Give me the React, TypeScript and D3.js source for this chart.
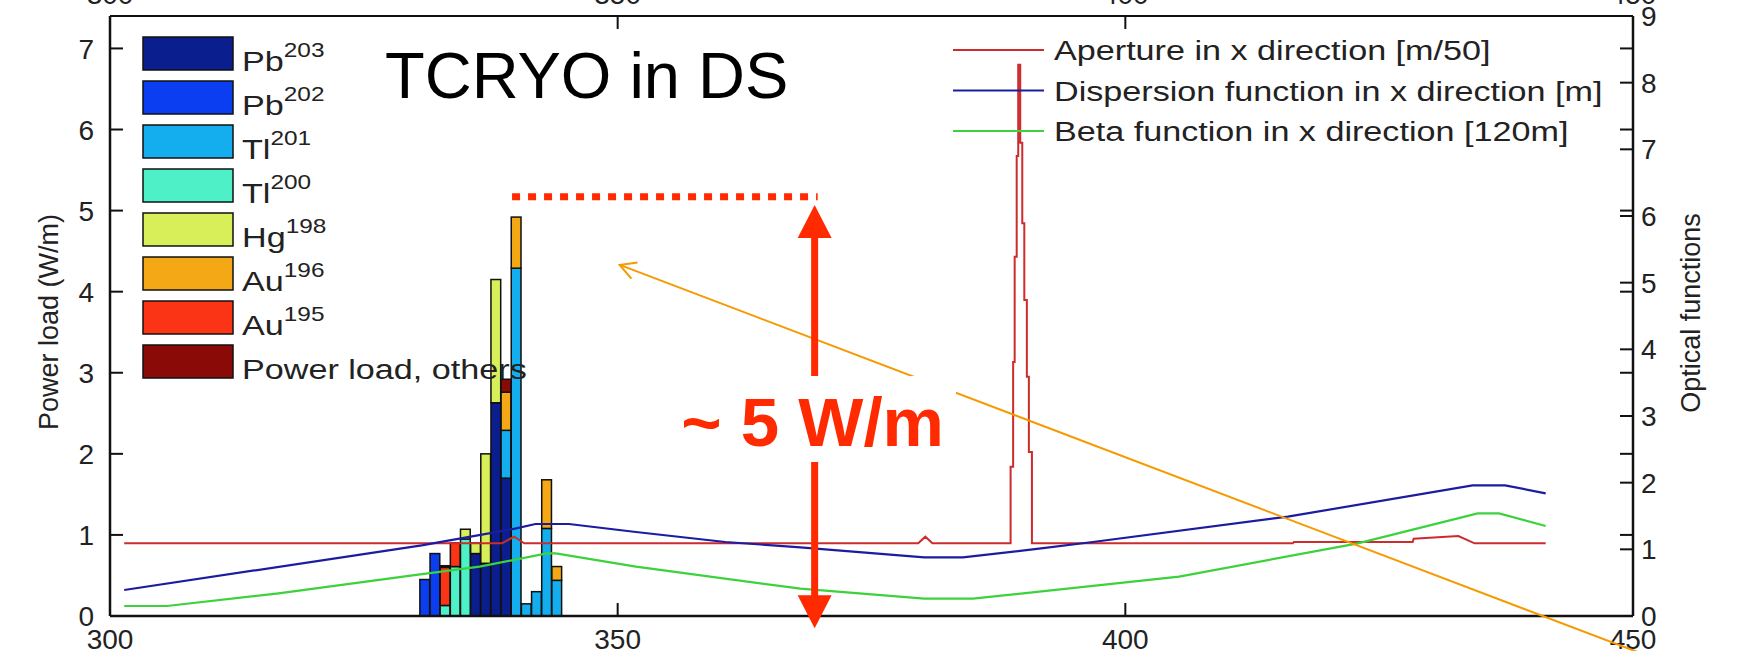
import React from 'react';
import * as d3 from 'd3';

const width = 1749;
const height = 651;
const margin = { top: 16, right: 116, bottom: 35, left: 110 };
const innerWidth = width - margin.left - margin.right;
const innerHeight = height - margin.top - margin.bottom;

// bar positions (m) and stacked power load per nuclide (W/m)
const positions = [331, 332, 333, 334, 335, 336, 337, 338, 339, 340, 341, 342, 343, 344];
const pb203 = [0, 0, 0, 0, 0, 0.77, 0.65, 2.63, 1.7, 0, 0, 0, 0, 0];
const pb202 = [0.45, 0.77, 0, 0, 0, 0, 0, 0, 0, 0, 0, 0, 0, 0];
const tl201 = [0, 0, 0, 0, 0, 0, 0, 0, 0.59, 4.29, 0.15, 0.3, 1.08, 0.44];
const tl200 = [0, 0, 0.13, 0.61, 0.95, 0, 0, 0, 0, 0, 0, 0, 0, 0];
const hg198 = [0, 0, 0, 0, 0.12, 0.13, 1.35, 1.52, 0, 0, 0, 0, 0, 0];
const au196 = [0, 0, 0, 0, 0, 0, 0, 0, 0.47, 0.63, 0, 0, 0.6, 0.17];
const au195 = [0, 0, 0.47, 0.29, 0, 0, 0, 0, 0, 0, 0, 0, 0, 0];
const others = [0, 0, 0.02, 0, 0, 0, 0, 0, 0.16, 0, 0, 0, 0, 0];

const seriesKeys = ['pb203', 'pb202', 'tl201', 'tl200', 'hg198', 'au196', 'au195', 'others'];
const seriesNames = ['Pb', 'Pb', 'Tl', 'Tl', 'Hg', 'Au', 'Au', 'Power load, others'];
const seriesMass = ['203', '202', '201', '200', '198', '196', '195', ''];
const seriesColors = ['#0a1e8e', '#0b3ef0', '#14aeee', '#4ef0c8', '#d8ef5a', '#f5a816', '#fa3414', '#8a0a08'];

// optical functions (right axis)
const apertureX = [301.4, 338.6, 339.8, 340.8, 379.6, 380.3, 381.0, 388.7, 388.7, 388.95, 388.95, 389.1, 389.1, 389.3, 389.3, 389.45, 389.45, 389.65, 389.65, 389.85, 389.85, 390.05, 390.05, 390.3, 390.3, 390.5, 390.5, 390.8, 390.8, 391.05, 391.05, 416.5, 416.6, 428.3, 428.4, 432.8, 434.4, 441.4];
const apertureY = [1.09, 1.09, 1.19, 1.09, 1.09, 1.19, 1.09, 1.09, 2.24, 2.24, 3.81, 3.81, 5.39, 5.39, 6.9, 6.9, 8.27, 8.27, 7.1, 7.1, 5.89, 5.89, 4.74, 4.74, 3.59, 3.59, 2.46, 2.46, 1.09, 1.09, 1.09, 1.09, 1.11, 1.11, 1.16, 1.2, 1.09, 1.09];
const dispersionX = [301.4, 330.7, 333.3, 339.9, 341.9, 345.2, 351.8, 360.6, 368.0, 380.2, 384.0, 391.5, 396.8, 416.0, 434.2, 437.4, 441.4];
const dispersionY = [0.39, 1.06, 1.13, 1.31, 1.38, 1.38, 1.26, 1.11, 1.03, 0.88, 0.88, 1.01, 1.11, 1.49, 1.96, 1.96, 1.84];
const betaX = [301.4, 305.6, 316.6, 329.8, 336.4, 343.0, 343.9, 351.8, 368.0, 380.2, 385.0, 405.3, 422.9, 434.7, 436.8, 441.4];
const betaY = [0.15, 0.15, 0.34, 0.61, 0.74, 0.94, 0.94, 0.74, 0.41, 0.26, 0.26, 0.59, 1.09, 1.54, 1.54, 1.35];

const lineNames = ['Aperture in x direction [m/50]', 'Dispersion function in x direction [m]', 'Beta function in x direction [120m]'];
const lineColors = ['#cc2c2c', '#1c1ca0', '#3cd23c'];

const xTicks = [300, 350, 400, 450];
const leftTicks = [0, 1, 2, 3, 4, 5, 6, 7];
const rightTicks = [0, 1, 2, 3, 4, 5, 6, 7, 8, 9];

const font = '"Liberation Sans", Arial, Helvetica, sans-serif';
const stretch = 1.22; // the figure text is a bit wider than plain Arial

const App = () => {
  const x = d3.scaleLinear().domain([300, 450]).range([margin.left, margin.left + innerWidth]);
  const yL = d3.scaleLinear().domain([0, 7.4]).range([margin.top + innerHeight, margin.top]);
  const yR = d3.scaleLinear().domain([0, 9]).range([margin.top + innerHeight, margin.top]);

  const table = positions.map((p, i) => ({
    pos: p,
    pb203: pb203[i], pb202: pb202[i], tl201: tl201[i], tl200: tl200[i],
    hg198: hg198[i], au196: au196[i], au195: au195[i], others: others[i],
  }));
  const layers = d3.stack().keys(seriesKeys)(table as any);

  const line = d3.line<[number, number]>().x(d => x(d[0])).y(d => yR(d[1]));
  const curves = [
    apertureX.map((v, i) => [v, apertureY[i]] as [number, number]),
    dispersionX.map((v, i) => [v, dispersionY[i]] as [number, number]),
    betaX.map((v, i) => [v, betaY[i]] as [number, number]),
  ];

  const x0 = margin.left;
  const x1 = margin.left + innerWidth;
  const y0 = margin.top + innerHeight;
  const yTop = margin.top;
  const tick = 13;

  // annotation geometry (data units)
  const arrowX = x(369.4);
  const arrowTop = yL(5.07);
  const arrowBot = yL(-0.15);
  const headW = 17;
  const headH = 33;
  const oTip: [number, number] = [x(350.2), yL(4.33)];
  const oEnd: [number, number] = [x(451.2), yL(-0.48)];
  const ang = Math.atan2(oEnd[1] - oTip[1], oEnd[0] - oTip[0]);
  const arm = 18;
  const armA: [number, number] = [oTip[0] + arm * Math.cos(ang + 0.5), oTip[1] + arm * Math.sin(ang + 0.5)];
  const armB: [number, number] = [oTip[0] + arm * Math.cos(ang - 0.5), oTip[1] + arm * Math.sin(ang - 0.5)];

  return (
    <svg width={width} height={height} style={{ position: 'absolute', left: 0, top: 0, background: '#fff' }} fontFamily={font}>
      <rect width={width} height={height} fill="#fff" />

      {/* bars */}
      {layers.map((layer, li) => (
        <g key={seriesKeys[li]} fill={seriesColors[li]} stroke="#111" strokeWidth={1.5}>
          {layer.map((d: any, i) => d[1] - d[0] > 0 ? (
            <rect
              key={i}
              x={x(d.data.pos - 0.48)}
              width={x(d.data.pos + 0.48) - x(d.data.pos - 0.48)}
              y={yL(d[1])}
              height={yL(d[0]) - yL(d[1])}
            />
          ) : null)}
        </g>
      ))}

      {/* optical function curves */}
      {curves.map((c, i) => (
        <path key={i} d={line(c) || ''} fill="none" stroke={lineColors[i]} strokeWidth={i === 0 ? 2 : 2.2} />
      ))}

      {/* axes box */}
      <g stroke="#111" strokeWidth={2} fill="none">
        <line x1={x0} x2={x1} y1={yTop} y2={yTop} />
        <line x1={x0} x2={x1} y1={y0} y2={y0} strokeWidth={2.5} />
        <line x1={x0} x2={x0} y1={yTop} y2={y0} strokeWidth={2.5} />
        <line x1={x1} x2={x1} y1={yTop} y2={y0} strokeWidth={2.5} />
        {xTicks.slice(1, 3).map(t => (
          <g key={t}>
            <line x1={x(t)} x2={x(t)} y1={y0} y2={y0 - tick} />
            <line x1={x(t)} x2={x(t)} y1={yTop} y2={yTop + tick} />
          </g>
        ))}
        {leftTicks.map(t => (
          <g key={t}>
            <line x1={x0} x2={x0 + tick} y1={yL(t)} y2={yL(t)} />
            <line x1={x1} x2={x1 - tick} y1={yL(t)} y2={yL(t)} />
          </g>
        ))}
        {rightTicks.map(t => (
          <line key={t} x1={x1} x2={x1 - tick} y1={yR(t)} y2={yR(t)} />
        ))}
      </g>

      {/* tick labels */}
      <g fontSize={28} fill="#222">
        {xTicks.map(t => (
          <text key={'b' + t} x={x(t)} y={649} textAnchor="middle">{t}</text>
        ))}
        {xTicks.map(t => (
          <text key={'t' + t} x={x(t)} y={4} textAnchor="middle">{t}</text>
        ))}
        {leftTicks.map(t => (
          <text key={t} x={x0 - 16} y={yL(t)} dy="0.36em" textAnchor="end">{t}</text>
        ))}
        {rightTicks.map(t => (
          <text key={t} x={x1 + 8} y={yR(t)} dy="0.36em" textAnchor="start">{t}</text>
        ))}
      </g>

      {/* axis titles */}
      <text transform={`translate(58,${(yTop + y0) / 2 + 6}) rotate(-90)`} textAnchor="middle" fontSize={27} fill="#222">Power load (W/m)</text>
      <text transform={`translate(1700,${(yTop + y0) / 2 - 3}) rotate(-90)`} textAnchor="middle" fontSize={27} fill="#222">Optical functions</text>

      {/* nuclide legend */}
      {seriesKeys.map((k, i) => (
        <g key={k} transform={`translate(143,${37 + i * 44})`}>
          <rect width={90} height={33} fill={seriesColors[i]} stroke="#111" strokeWidth={1.5} />
          <text transform={`translate(99,34) scale(${stretch},1)`} fontSize={28} fill="#222">
            {seriesNames[i]}
            {seriesMass[i] ? <tspan dy={-14} fontSize={20}>{seriesMass[i]}</tspan> : null}
          </text>
        </g>
      ))}

      {/* optical legend */}
      {lineNames.map((n, i) => (
        <g key={n} transform={`translate(953,${50 + i * 40.5})`}>
          <line x1={0} x2={91} y1={0} y2={0} stroke={lineColors[i]} strokeWidth={2} />
          <text transform={`translate(101,10) scale(${stretch},1)`} fontSize={28} fill="#222">{n}</text>
        </g>
      ))}

      {/* annotations */}
      <text x={385} y={98} fontSize={65} fill="#000">TCRYO in DS</text>
      <line x1={x(339.6)} x2={x(369.7)} y1={yL(5.17)} y2={yL(5.17)} stroke="#ff2a00" strokeWidth={7} strokeDasharray="8 8" />
      <line x1={oTip[0]} y1={oTip[1]} x2={oEnd[0]} y2={oEnd[1]} stroke="#f59a00" strokeWidth={2} />
      <polyline points={`${armA[0]},${armA[1]} ${oTip[0]},${oTip[1]} ${armB[0]},${armB[1]}`} fill="none" stroke="#f59a00" strokeWidth={2} />
      <line x1={arrowX} x2={arrowX} y1={arrowTop + headH - 2} y2={arrowBot - headH + 2} stroke="#ff2a00" strokeWidth={7} />
      <polygon points={`${arrowX},${arrowTop} ${arrowX - headW},${arrowTop + headH} ${arrowX + headW},${arrowTop + headH}`} fill="#ff2a00" />
      <polygon points={`${arrowX},${arrowBot} ${arrowX - headW},${arrowBot - headH} ${arrowX + headW},${arrowBot - headH}`} fill="#ff2a00" />
      <rect x={670} y={376} width={286} height={86} fill="#fff" />
      <text x={arrowX - 2} y={446} textAnchor="middle" fontSize={69} fontWeight="bold" fill="#ff2a00">~ 5 W/m</text>
    </svg>
  );
};

export default App;
